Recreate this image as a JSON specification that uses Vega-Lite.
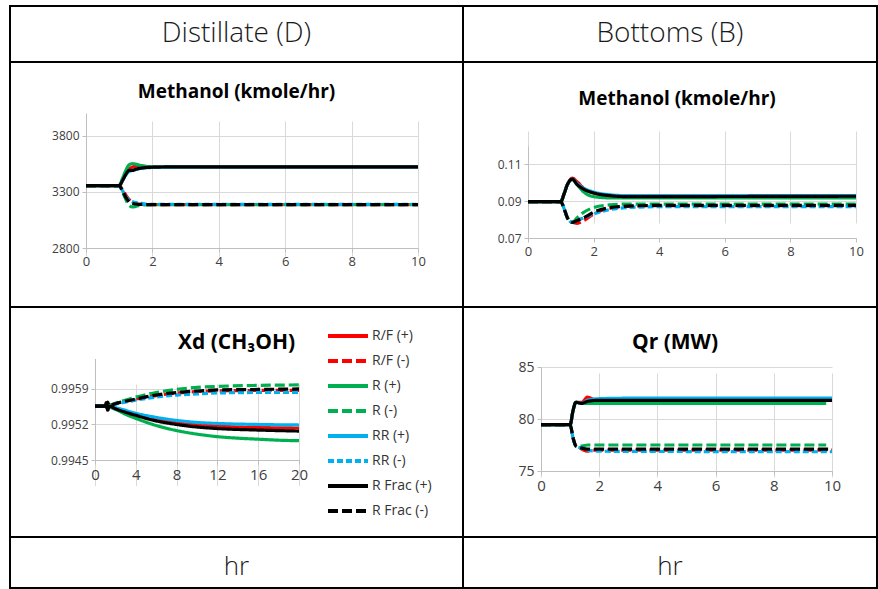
{
"$schema": "https://vega.github.io/schema/vega-lite/v6.json",
"padding": {"left": 9, "top": 5, "right": 0, "bottom": 0},
"autosize": {"type": "pad"},
"columns": 2,
"spacing": 0,
"bounds": "flush",
"resolve": {"scale": {"color": "independent", "strokeDash": "independent", "x": "independent", "y": "independent"}, "legend": {"color": "independent", "strokeDash": "independent"}},
"datasets": {
"hdr": [{"h": "Distillate (D)"}, {"h": "Bottoms (B)"}, {"h": "hr"}],
"distM": [
{"s":"R/F (+)","t":0,"v":3355},{"s":"R/F (+)","t":1,"v":3355},{"s":"R/F (+)","t":1.1,"v":3400},{"s":"R/F (+)","t":1.2,"v":3460},{"s":"R/F (+)","t":1.3,"v":3500},{"s":"R/F (+)","t":1.4,"v":3520},{"s":"R/F (+)","t":1.6,"v":3530},{"s":"R/F (+)","t":1.8,"v":3525},{"s":"R/F (+)","t":2,"v":3522},{"s":"R/F (+)","t":3,"v":3520},{"s":"R/F (+)","t":10,"v":3518},
{"s":"R/F (-)","t":0,"v":3355},{"s":"R/F (-)","t":1,"v":3355},{"s":"R/F (-)","t":1.1,"v":3320},{"s":"R/F (-)","t":1.2,"v":3270},{"s":"R/F (-)","t":1.3,"v":3230},{"s":"R/F (-)","t":1.4,"v":3200},{"s":"R/F (-)","t":1.6,"v":3188},{"s":"R/F (-)","t":2,"v":3185},{"s":"R/F (-)","t":10,"v":3185},
{"s":"R (+)","t":0,"v":3355},{"s":"R (+)","t":1,"v":3355},{"s":"R (+)","t":1.1,"v":3420},{"s":"R (+)","t":1.2,"v":3490},{"s":"R (+)","t":1.3,"v":3540},{"s":"R (+)","t":1.4,"v":3550},{"s":"R (+)","t":1.5,"v":3545},{"s":"R (+)","t":1.7,"v":3530},{"s":"R (+)","t":2,"v":3522},{"s":"R (+)","t":3,"v":3520},{"s":"R (+)","t":10,"v":3520},
{"s":"R (-)","t":0,"v":3355},{"s":"R (-)","t":1,"v":3355},{"s":"R (-)","t":1.1,"v":3300},{"s":"R (-)","t":1.2,"v":3230},{"s":"R (-)","t":1.3,"v":3180},{"s":"R (-)","t":1.4,"v":3165},{"s":"R (-)","t":1.5,"v":3170},{"s":"R (-)","t":1.7,"v":3182},{"s":"R (-)","t":2,"v":3185},{"s":"R (-)","t":10,"v":3185},
{"s":"RR (+)","t":0,"v":3355},{"s":"RR (+)","t":1,"v":3355},{"s":"RR (+)","t":1.1,"v":3400},{"s":"RR (+)","t":1.2,"v":3450},{"s":"RR (+)","t":1.3,"v":3480},{"s":"RR (+)","t":1.4,"v":3490},{"s":"RR (+)","t":1.6,"v":3505},{"s":"RR (+)","t":1.8,"v":3512},{"s":"RR (+)","t":2,"v":3516},{"s":"RR (+)","t":3,"v":3520},{"s":"RR (+)","t":10,"v":3520},
{"s":"RR (-)","t":0,"v":3355},{"s":"RR (-)","t":1,"v":3355},{"s":"RR (-)","t":1.1,"v":3310},{"s":"RR (-)","t":1.2,"v":3260},{"s":"RR (-)","t":1.3,"v":3225},{"s":"RR (-)","t":1.4,"v":3210},{"s":"RR (-)","t":1.6,"v":3200},{"s":"RR (-)","t":1.8,"v":3190},{"s":"RR (-)","t":2,"v":3187},{"s":"RR (-)","t":10,"v":3187},
{"s":"R Frac (+)","t":0,"v":3355},{"s":"R Frac (+)","t":1,"v":3355},{"s":"R Frac (+)","t":1.1,"v":3400},{"s":"R Frac (+)","t":1.2,"v":3455},{"s":"R Frac (+)","t":1.3,"v":3490},{"s":"R Frac (+)","t":1.4,"v":3490},{"s":"R Frac (+)","t":1.5,"v":3500},{"s":"R Frac (+)","t":1.7,"v":3512},{"s":"R Frac (+)","t":2,"v":3518},{"s":"R Frac (+)","t":3,"v":3522},{"s":"R Frac (+)","t":10,"v":3522},
{"s":"R Frac (-)","t":0,"v":3355},{"s":"R Frac (-)","t":1,"v":3355},{"s":"R Frac (-)","t":1.1,"v":3305},{"s":"R Frac (-)","t":1.2,"v":3250},{"s":"R Frac (-)","t":1.3,"v":3210},{"s":"R Frac (-)","t":1.4,"v":3195},{"s":"R Frac (-)","t":1.6,"v":3188},{"s":"R Frac (-)","t":2,"v":3186},{"s":"R Frac (-)","t":10,"v":3186}
],
"botM": [
{"s":"R/F (+)","t":0,"v":0.0898},{"s":"R/F (+)","t":1,"v":0.0898},{"s":"R/F (+)","t":1.1,"v":0.094},{"s":"R/F (+)","t":1.2,"v":0.099},{"s":"R/F (+)","t":1.35,"v":0.1025},{"s":"R/F (+)","t":1.5,"v":0.1005},{"s":"R/F (+)","t":1.7,"v":0.097},{"s":"R/F (+)","t":2,"v":0.0945},{"s":"R/F (+)","t":2.5,"v":0.093},{"s":"R/F (+)","t":3,"v":0.0925},{"s":"R/F (+)","t":10,"v":0.0925},
{"s":"R/F (-)","t":0,"v":0.0898},{"s":"R/F (-)","t":1,"v":0.0898},{"s":"R/F (-)","t":1.1,"v":0.086},{"s":"R/F (-)","t":1.2,"v":0.081},{"s":"R/F (-)","t":1.35,"v":0.0785},{"s":"R/F (-)","t":1.5,"v":0.078},{"s":"R/F (-)","t":1.7,"v":0.0795},{"s":"R/F (-)","t":2,"v":0.083},{"s":"R/F (-)","t":2.5,"v":0.0862},{"s":"R/F (-)","t":3,"v":0.0872},{"s":"R/F (-)","t":4,"v":0.0876},{"s":"R/F (-)","t":10,"v":0.0876},
{"s":"R (+)","t":0,"v":0.0898},{"s":"R (+)","t":1,"v":0.0898},{"s":"R (+)","t":1.1,"v":0.094},{"s":"R (+)","t":1.2,"v":0.099},{"s":"R (+)","t":1.35,"v":0.1018},{"s":"R (+)","t":1.5,"v":0.099},{"s":"R (+)","t":1.7,"v":0.095},{"s":"R (+)","t":2,"v":0.0925},{"s":"R (+)","t":2.5,"v":0.0918},{"s":"R (+)","t":10,"v":0.0918},
{"s":"R (-)","t":0,"v":0.0898},{"s":"R (-)","t":1,"v":0.0898},{"s":"R (-)","t":1.1,"v":0.086},{"s":"R (-)","t":1.2,"v":0.081},{"s":"R (-)","t":1.35,"v":0.0785},{"s":"R (-)","t":1.5,"v":0.081},{"s":"R (-)","t":1.7,"v":0.084},{"s":"R (-)","t":2,"v":0.0865},{"s":"R (-)","t":2.5,"v":0.088},{"s":"R (-)","t":3,"v":0.0884},{"s":"R (-)","t":10,"v":0.0884},
{"s":"RR (+)","t":0,"v":0.0898},{"s":"RR (+)","t":1,"v":0.0898},{"s":"RR (+)","t":1.1,"v":0.094},{"s":"RR (+)","t":1.2,"v":0.099},{"s":"RR (+)","t":1.35,"v":0.102},{"s":"RR (+)","t":1.5,"v":0.0995},{"s":"RR (+)","t":1.7,"v":0.097},{"s":"RR (+)","t":2,"v":0.095},{"s":"RR (+)","t":2.5,"v":0.0935},{"s":"RR (+)","t":3,"v":0.093},{"s":"RR (+)","t":10,"v":0.093},
{"s":"RR (-)","t":0,"v":0.0898},{"s":"RR (-)","t":1,"v":0.0898},{"s":"RR (-)","t":1.1,"v":0.086},{"s":"RR (-)","t":1.2,"v":0.081},{"s":"RR (-)","t":1.35,"v":0.0785},{"s":"RR (-)","t":1.5,"v":0.0795},{"s":"RR (-)","t":1.7,"v":0.081},{"s":"RR (-)","t":2,"v":0.083},{"s":"RR (-)","t":2.5,"v":0.0855},{"s":"RR (-)","t":3,"v":0.0865},{"s":"RR (-)","t":4,"v":0.087},{"s":"RR (-)","t":10,"v":0.087},
{"s":"R Frac (+)","t":0,"v":0.0898},{"s":"R Frac (+)","t":1,"v":0.0898},{"s":"R Frac (+)","t":1.1,"v":0.094},{"s":"R Frac (+)","t":1.2,"v":0.099},{"s":"R Frac (+)","t":1.35,"v":0.102},{"s":"R Frac (+)","t":1.5,"v":0.099},{"s":"R Frac (+)","t":1.7,"v":0.0965},{"s":"R Frac (+)","t":2,"v":0.0945},{"s":"R Frac (+)","t":2.5,"v":0.093},{"s":"R Frac (+)","t":3,"v":0.0925},{"s":"R Frac (+)","t":10,"v":0.0927},
{"s":"R Frac (-)","t":0,"v":0.0898},{"s":"R Frac (-)","t":1,"v":0.0898},{"s":"R Frac (-)","t":1.1,"v":0.086},{"s":"R Frac (-)","t":1.2,"v":0.081},{"s":"R Frac (-)","t":1.35,"v":0.0785},{"s":"R Frac (-)","t":1.5,"v":0.0795},{"s":"R Frac (-)","t":1.7,"v":0.081},{"s":"R Frac (-)","t":2,"v":0.084},{"s":"R Frac (-)","t":2.5,"v":0.0865},{"s":"R Frac (-)","t":3,"v":0.0873},{"s":"R Frac (-)","t":4,"v":0.0877},{"s":"R Frac (-)","t":10,"v":0.0877}
],
"xd": [
{"s":"R/F (+)","t":0,"v":0.99556},{"s":"R/F (+)","t":1,"v":0.99556},{"s":"R/F (+)","t":2,"v":0.99552},{"s":"R/F (+)","t":4,"v":0.9954},{"s":"R/F (+)","t":6,"v":0.9953},{"s":"R/F (+)","t":8,"v":0.99524},{"s":"R/F (+)","t":10,"v":0.9952},{"s":"R/F (+)","t":12,"v":0.99517},{"s":"R/F (+)","t":14,"v":0.99515},{"s":"R/F (+)","t":16,"v":0.99514},{"s":"R/F (+)","t":20,"v":0.99513},
{"s":"R/F (-)","t":0,"v":0.99556},{"s":"R/F (-)","t":1,"v":0.99556},{"s":"R/F (-)","t":2,"v":0.99561},{"s":"R/F (-)","t":4,"v":0.9957},{"s":"R/F (-)","t":6,"v":0.99577},{"s":"R/F (-)","t":8,"v":0.99582},{"s":"R/F (-)","t":10,"v":0.99585},{"s":"R/F (-)","t":12,"v":0.99586},{"s":"R/F (-)","t":16,"v":0.99587},{"s":"R/F (-)","t":20,"v":0.99587},
{"s":"R (+)","t":0,"v":0.99556},{"s":"R (+)","t":1,"v":0.99556},{"s":"R (+)","t":2,"v":0.9955},{"s":"R (+)","t":3,"v":0.9954},{"s":"R (+)","t":4,"v":0.99532},{"s":"R (+)","t":6,"v":0.99518},{"s":"R (+)","t":8,"v":0.99508},{"s":"R (+)","t":10,"v":0.99501},{"s":"R (+)","t":12,"v":0.99496},{"s":"R (+)","t":14,"v":0.99493},{"s":"R (+)","t":16,"v":0.99491},{"s":"R (+)","t":18,"v":0.99489},{"s":"R (+)","t":20,"v":0.99488},
{"s":"R (-)","t":0,"v":0.99556},{"s":"R (-)","t":1,"v":0.99556},{"s":"R (-)","t":2,"v":0.99562},{"s":"R (-)","t":4,"v":0.99574},{"s":"R (-)","t":6,"v":0.99583},{"s":"R (-)","t":8,"v":0.99589},{"s":"R (-)","t":10,"v":0.99593},{"s":"R (-)","t":12,"v":0.99595},{"s":"R (-)","t":16,"v":0.99597},{"s":"R (-)","t":20,"v":0.99598},
{"s":"RR (+)","t":0,"v":0.99556},{"s":"RR (+)","t":1,"v":0.99556},{"s":"RR (+)","t":2,"v":0.99553},{"s":"RR (+)","t":4,"v":0.99542},{"s":"RR (+)","t":6,"v":0.99534},{"s":"RR (+)","t":8,"v":0.99528},{"s":"RR (+)","t":10,"v":0.99524},{"s":"RR (+)","t":12,"v":0.99522},{"s":"RR (+)","t":16,"v":0.9952},{"s":"RR (+)","t":20,"v":0.99519},
{"s":"RR (-)","t":0,"v":0.99556},{"s":"RR (-)","t":1,"v":0.99556},{"s":"RR (-)","t":2,"v":0.9956},{"s":"RR (-)","t":4,"v":0.99568},{"s":"RR (-)","t":6,"v":0.99574},{"s":"RR (-)","t":8,"v":0.99578},{"s":"RR (-)","t":10,"v":0.9958},{"s":"RR (-)","t":12,"v":0.99582},{"s":"RR (-)","t":16,"v":0.99583},{"s":"RR (-)","t":20,"v":0.99583},
{"s":"R Frac (+)","t":0,"v":0.99556},{"s":"R Frac (+)","t":1,"v":0.99556},{"s":"R Frac (+)","t":1.1,"v":0.99563},{"s":"R Frac (+)","t":1.25,"v":0.99548},{"s":"R Frac (+)","t":1.4,"v":0.99556},{"s":"R Frac (+)","t":2,"v":0.99551},{"s":"R Frac (+)","t":4,"v":0.99538},{"s":"R Frac (+)","t":6,"v":0.99527},{"s":"R Frac (+)","t":8,"v":0.9952},{"s":"R Frac (+)","t":10,"v":0.99515},{"s":"R Frac (+)","t":12,"v":0.99512},{"s":"R Frac (+)","t":16,"v":0.99509},{"s":"R Frac (+)","t":20,"v":0.99507},
{"s":"R Frac (-)","t":0,"v":0.99556},{"s":"R Frac (-)","t":1,"v":0.99556},{"s":"R Frac (-)","t":1.1,"v":0.99549},{"s":"R Frac (-)","t":1.25,"v":0.99564},{"s":"R Frac (-)","t":1.4,"v":0.99557},{"s":"R Frac (-)","t":2,"v":0.99561},{"s":"R Frac (-)","t":4,"v":0.9957},{"s":"R Frac (-)","t":6,"v":0.99578},{"s":"R Frac (-)","t":8,"v":0.99583},{"s":"R Frac (-)","t":10,"v":0.99586},{"s":"R Frac (-)","t":12,"v":0.99588},{"s":"R Frac (-)","t":16,"v":0.99589},{"s":"R Frac (-)","t":20,"v":0.9959}
],
"qr": [
{"s":"R/F (+)","t":0,"v":79.45},{"s":"R/F (+)","t":1,"v":79.45},{"s":"R/F (+)","t":1.1,"v":80.8},{"s":"R/F (+)","t":1.2,"v":81.6},{"s":"R/F (+)","t":1.4,"v":81.6},{"s":"R/F (+)","t":1.6,"v":82.1},{"s":"R/F (+)","t":1.8,"v":81.9},{"s":"R/F (+)","t":2,"v":81.85},{"s":"R/F (+)","t":10,"v":81.85},
{"s":"R/F (-)","t":0,"v":79.45},{"s":"R/F (-)","t":1,"v":79.45},{"s":"R/F (-)","t":1.1,"v":78.2},{"s":"R/F (-)","t":1.2,"v":77.4},{"s":"R/F (-)","t":1.4,"v":77.1},{"s":"R/F (-)","t":1.6,"v":76.9},{"s":"R/F (-)","t":1.8,"v":77},{"s":"R/F (-)","t":2,"v":77},{"s":"R/F (-)","t":10,"v":77},
{"s":"R (+)","t":0,"v":79.45},{"s":"R (+)","t":1,"v":79.45},{"s":"R (+)","t":1.1,"v":80.8},{"s":"R (+)","t":1.2,"v":81.6},{"s":"R (+)","t":1.4,"v":81.5},{"s":"R (+)","t":2,"v":81.5},{"s":"R (+)","t":9.8,"v":81.5},
{"s":"R (-)","t":0,"v":79.45},{"s":"R (-)","t":1,"v":79.45},{"s":"R (-)","t":1.1,"v":78.2},{"s":"R (-)","t":1.2,"v":77.4},{"s":"R (-)","t":1.4,"v":77.4},{"s":"R (-)","t":1.6,"v":77.5},{"s":"R (-)","t":9.8,"v":77.5},
{"s":"RR (+)","t":0,"v":79.45},{"s":"RR (+)","t":1,"v":79.45},{"s":"RR (+)","t":1.1,"v":80.8},{"s":"RR (+)","t":1.2,"v":81.6},{"s":"RR (+)","t":1.4,"v":81.5},{"s":"RR (+)","t":1.6,"v":81.8},{"s":"RR (+)","t":2,"v":81.95},{"s":"RR (+)","t":3,"v":82},{"s":"RR (+)","t":10,"v":82},
{"s":"RR (-)","t":0,"v":79.45},{"s":"RR (-)","t":1,"v":79.45},{"s":"RR (-)","t":1.1,"v":78.2},{"s":"RR (-)","t":1.2,"v":77.4},{"s":"RR (-)","t":1.4,"v":77.2},{"s":"RR (-)","t":1.6,"v":77},{"s":"RR (-)","t":2,"v":76.9},{"s":"RR (-)","t":10,"v":76.85},
{"s":"R Frac (+)","t":0,"v":79.45},{"s":"R Frac (+)","t":1,"v":79.45},{"s":"R Frac (+)","t":1.1,"v":80.8},{"s":"R Frac (+)","t":1.2,"v":81.6},{"s":"R Frac (+)","t":1.4,"v":81.5},{"s":"R Frac (+)","t":1.6,"v":81.7},{"s":"R Frac (+)","t":2,"v":81.8},{"s":"R Frac (+)","t":10,"v":81.8},
{"s":"R Frac (-)","t":0,"v":79.45},{"s":"R Frac (-)","t":1,"v":79.45},{"s":"R Frac (-)","t":1.1,"v":78.2},{"s":"R Frac (-)","t":1.2,"v":77.4},{"s":"R Frac (-)","t":1.4,"v":77.2},{"s":"R Frac (-)","t":1.6,"v":77.1},{"s":"R Frac (-)","t":2,"v":77.1},{"s":"R Frac (-)","t":10,"v":77.1}
]
},
"concat": [
{"width": 453, "height": 56, "data": {"name": "hdr"}, "transform": [{"filter": "datum.h === 'Distillate (D)'"}], "view": {"stroke": "#000000", "strokeWidth": 2}, "mark": {"type": "text", "fontSize": 28, "dy": 0}, "encoding": {"text": {"field": "h"}, "x": {"field": "h", "type": "nominal", "axis": null}, "y": {"field": "h", "type": "nominal", "axis": null}}},
{"width": 414, "height": 56, "data": {"name": "hdr"}, "transform": [{"filter": "datum.h === 'Bottoms (B)'"}], "view": {"stroke": "#000000", "strokeWidth": 2}, "mark": {"type": "text", "fontSize": 28, "dy": 0}, "encoding": {"text": {"field": "h"}, "x": {"field": "h", "type": "nominal", "axis": null}, "y": {"field": "h", "type": "nominal", "axis": null}}},
{"width": 453, "height": 245, "data": {"name": "distM"},
 "title": {"text": "Methanol (kmole/hr)", "offset": -40, "fontSize": 19},
 "mark": {"type": "line", "strokeWidth": 3.2, "interpolate": "monotone"},
 "encoding": {
  "x": {"field": "t", "type": "quantitative", "scale": {"domain": [0, 10], "range": [76, 408], "nice": false}, "axis": {"title": null, "values": [0, 2, 4, 6, 8, 10], "offset": -59, "labelFontSize": 13}},
  "y": {"field": "v", "type": "quantitative", "scale": {"domain": [2800, 4000], "range": [186, 51], "nice": false, "zero": false}, "axis": {"title": null, "values": [2800, 3300, 3800], "offset": -76, "format": "d"}},
  "color": {"field": "s", "type": "nominal", "scale": {"domain": ["R/F (+)", "R/F (-)", "R (+)", "R (-)", "RR (+)", "RR (-)", "R Frac (+)", "R Frac (-)"], "range": ["#ff0000", "#ff0000", "#00b050", "#00b050", "#00b0f0", "#00b0f0", "#000000", "#000000"]}, "legend": null},
  "strokeDash": {"field": "s", "type": "nominal", "scale": {"domain": ["R/F (+)", "R/F (-)", "R (+)", "R (-)", "RR (+)", "RR (-)", "R Frac (+)", "R Frac (-)"], "range": [[1, 0], [10, 4], [1, 0], [10, 4], [1, 0], [6, 3], [1, 0], [10, 4]]}, "legend": null}
 }},
{"width": 414, "height": 245, "data": {"name": "botM"},
 "title": {"text": "Methanol (kmole/hr)", "offset": -47, "dx": 7, "fontSize": 19},
 "mark": {"type": "line", "strokeWidth": 3.2, "interpolate": "monotone"},
 "encoding": {
  "x": {"field": "t", "type": "quantitative", "scale": {"domain": [0, 10], "range": [65, 393], "nice": false}, "axis": {"title": null, "values": [0, 2, 4, 6, 8, 10], "offset": -69, "labelFontSize": 13}},
  "y": {"field": "v", "type": "quantitative", "scale": {"domain": [0.07, 0.12], "range": [176, 84], "nice": false, "zero": false}, "axis": {"title": null, "values": [0.07, 0.09, 0.11], "offset": -65, "format": ".2f"}},
  "color": {"field": "s", "type": "nominal", "scale": {"domain": ["R/F (+)", "R/F (-)", "R (+)", "R (-)", "RR (+)", "RR (-)", "R Frac (+)", "R Frac (-)"], "range": ["#ff0000", "#ff0000", "#00b050", "#00b050", "#00b0f0", "#00b0f0", "#000000", "#000000"]}, "legend": null},
  "strokeDash": {"field": "s", "type": "nominal", "scale": {"domain": ["R/F (+)", "R/F (-)", "R (+)", "R (-)", "RR (+)", "RR (-)", "R Frac (+)", "R Frac (-)"], "range": [[1, 0], [10, 4], [1, 0], [10, 4], [1, 0], [6, 3], [1, 0], [10, 4]]}, "legend": null}
 }},
{"width": 453, "height": 230, "data": {"name": "xd"},
 "title": {"text": "Xd (CH₃OH)", "offset": -46, "fontSize": 21},
 "mark": {"type": "line", "strokeWidth": 3.2, "interpolate": "monotone"},
 "encoding": {
  "x": {"field": "t", "type": "quantitative", "scale": {"domain": [0, 20], "range": [85, 289], "nice": false}, "axis": {"title": null, "values": [0, 4, 8, 12, 16, 20], "offset": -77, "labelFontSize": 15}},
  "y": {"field": "v", "type": "quantitative", "scale": {"domain": [0.9945, 0.9965], "range": [153, 51.5], "nice": false, "zero": false}, "axis": {"title": null, "values": [0.9945, 0.9952, 0.9959], "offset": -85, "format": ".4f"}},
  "color": {"field": "s", "type": "nominal", "scale": {"domain": ["R/F (+)", "R/F (-)", "R (+)", "R (-)", "RR (+)", "RR (-)", "R Frac (+)", "R Frac (-)"], "range": ["#ff0000", "#ff0000", "#00b050", "#00b050", "#00b0f0", "#00b0f0", "#000000", "#000000"]},
    "legend": {"title": null, "orient": "none", "legendX": 326, "legendY": 17, "symbolType": "M-2,0H2", "symbolSize": 400, "symbolStrokeWidth": 4, "labelFont": "Open Sans", "labelFontSize": 14, "labelColor": "#333333", "labelOffset": 12, "rowPadding": 5, "padding": 0}},
  "strokeDash": {"field": "s", "type": "nominal", "scale": {"domain": ["R/F (+)", "R/F (-)", "R (+)", "R (-)", "RR (+)", "RR (-)", "R Frac (+)", "R Frac (-)"], "range": [[1, 0], [10, 4], [1, 0], [10, 4], [1, 0], [6, 3], [1, 0], [10, 4]]},
    "legend": {"title": null, "orient": "none", "legendX": 326, "legendY": 17, "symbolType": "M-2,0H2", "symbolSize": 400, "symbolStrokeWidth": 4, "labelFont": "Open Sans", "labelFontSize": 14, "labelColor": "#333333", "labelOffset": 12, "rowPadding": 5, "padding": 0}}
 }},
{"width": 414, "height": 230, "data": {"name": "qr"},
 "title": {"text": "Qr (MW)", "offset": -46, "dx": 5, "fontSize": 21},
 "mark": {"type": "line", "strokeWidth": 3.2, "interpolate": "monotone"},
 "encoding": {
  "x": {"field": "t", "type": "quantitative", "scale": {"domain": [0, 10], "range": [78, 369], "nice": false}, "axis": {"title": null, "values": [0, 2, 4, 6, 8, 10], "offset": -66, "labelFontSize": 15}},
  "y": {"field": "v", "type": "quantitative", "scale": {"domain": [75, 85], "range": [164, 60], "nice": false, "zero": false}, "axis": {"title": null, "values": [75, 80, 85], "offset": -78, "labelFontSize": 14}},
  "color": {"field": "s", "type": "nominal", "scale": {"domain": ["R/F (+)", "R/F (-)", "R (+)", "R (-)", "RR (+)", "RR (-)", "R Frac (+)", "R Frac (-)"], "range": ["#ff0000", "#ff0000", "#00b050", "#00b050", "#00b0f0", "#00b0f0", "#000000", "#000000"]}, "legend": null},
  "strokeDash": {"field": "s", "type": "nominal", "scale": {"domain": ["R/F (+)", "R/F (-)", "R (+)", "R (-)", "RR (+)", "RR (-)", "R Frac (+)", "R Frac (-)"], "range": [[1, 0], [10, 4], [1, 0], [10, 4], [1, 0], [6, 3], [1, 0], [10, 4]]}, "legend": null}
 }},
{"width": 453, "height": 51, "data": {"name": "hdr"}, "transform": [{"filter": "datum.h === 'hr'"}], "view": {"stroke": "#000000", "strokeWidth": 2}, "mark": {"type": "text", "fontSize": 26, "dy": 4}, "encoding": {"text": {"field": "h"}, "x": {"field": "h", "type": "nominal", "axis": null}, "y": {"field": "h", "type": "nominal", "axis": null}}},
{"width": 414, "height": 51, "data": {"name": "hdr"}, "transform": [{"filter": "datum.h === 'hr'"}], "view": {"stroke": "#000000", "strokeWidth": 2}, "mark": {"type": "text", "fontSize": 26, "dy": 4}, "encoding": {"text": {"field": "h"}, "x": {"field": "h", "type": "nominal", "axis": null}, "y": {"field": "h", "type": "nominal", "axis": null}}}
],
"config": {
 "view": {"stroke": "#000000", "strokeWidth": 2},
 "axis": {"grid": true, "gridColor": "#d9d9d9", "gridWidth": 1, "domainColor": "#bfbfbf", "tickColor": "#bfbfbf", "tickSize": 4, "labelColor": "#404040", "labelFont": "Open Sans", "labelFontSize": 12, "labelFlush": false, "labelPadding": 3},
 "title": {"font": "Open Sans", "fontSize": 17, "fontWeight": "bold", "color": "#000000", "anchor": "middle", "frame": "group"},
 "text": {"font": "Open Sans", "fontSize": 25, "color": "#1a1a1a", "fontWeight": 300}
}
}
